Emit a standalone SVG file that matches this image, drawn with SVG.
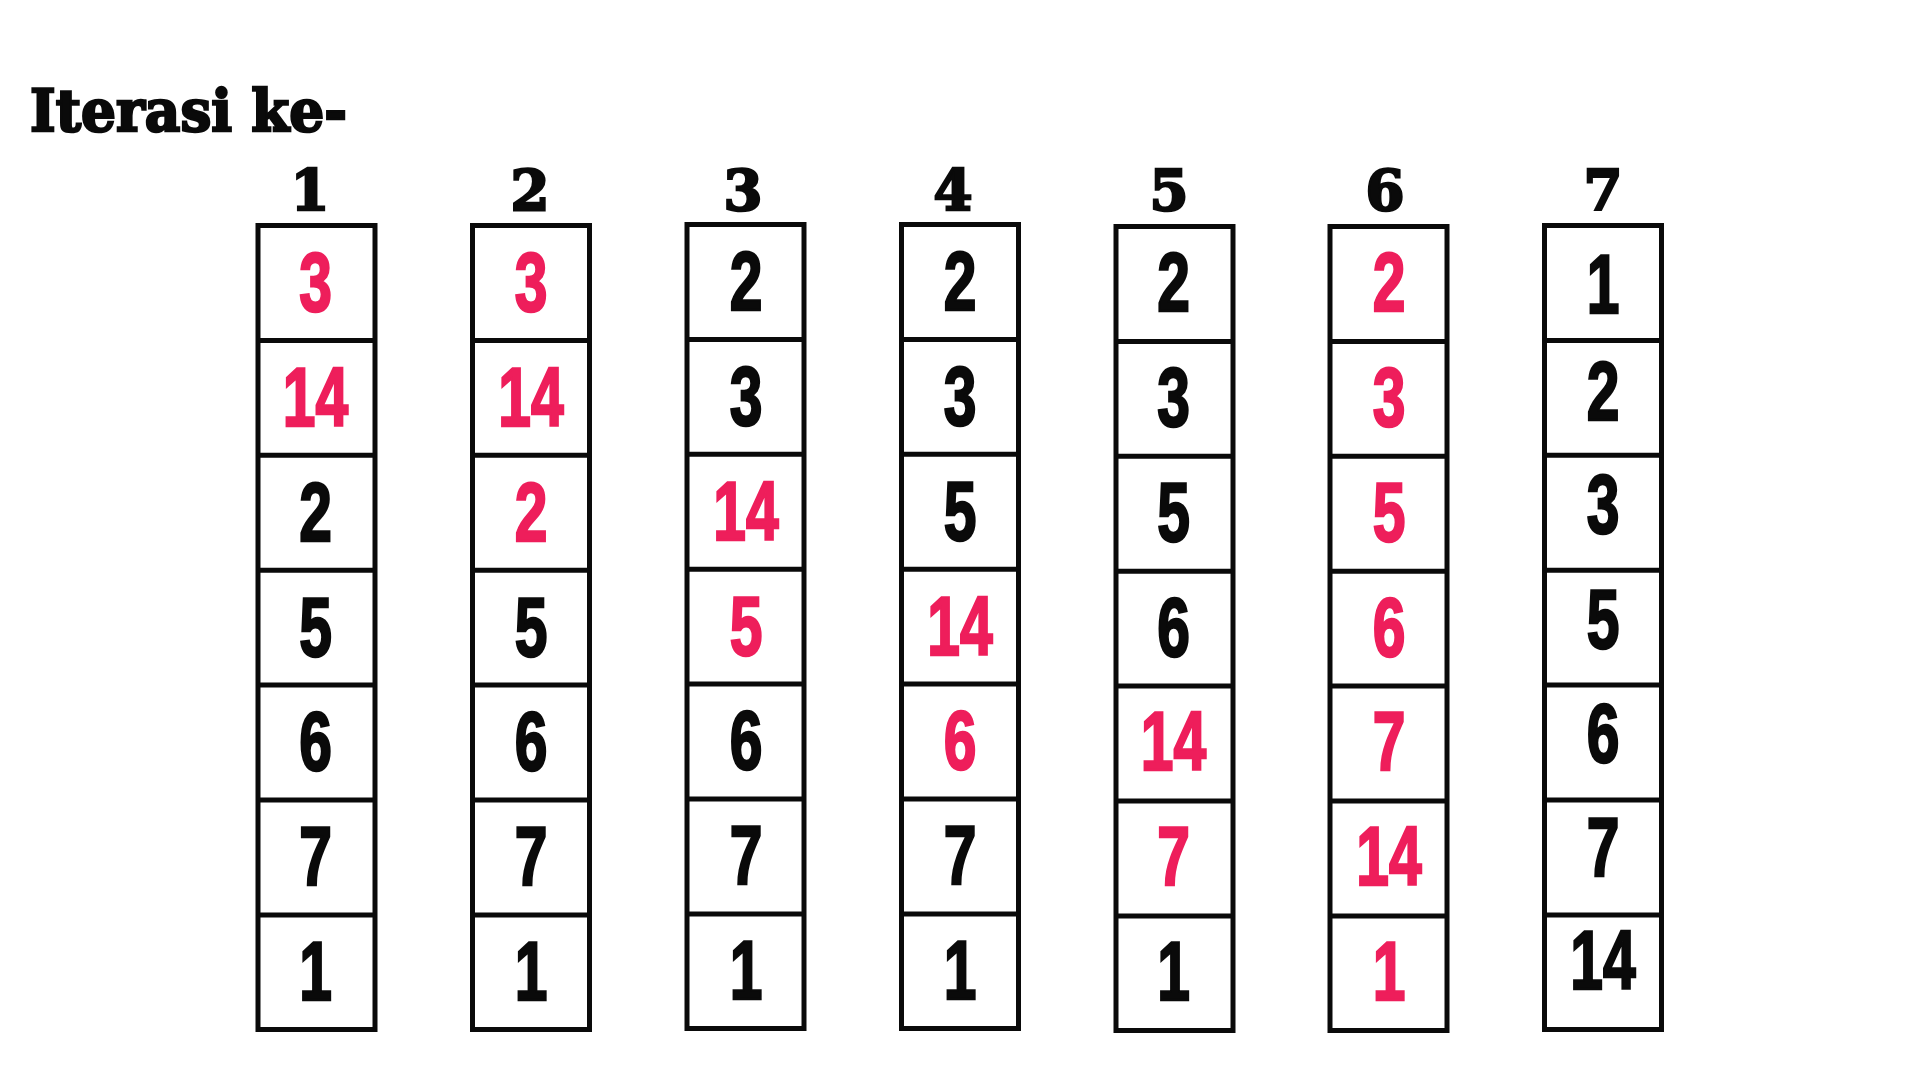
<svg xmlns="http://www.w3.org/2000/svg" width="1920" height="1080" viewBox="0 0 1920 1080">
<style>
.box{fill:#fff;stroke:#0a0a0a;stroke-width:5}
.div{stroke:#0a0a0a;stroke-width:5}
.hd{font-family:"DejaVu Serif","Liberation Serif",serif;font-weight:bold;fill:#0a0a0a;stroke:#0a0a0a;stroke-width:2.5}
.n{font-family:"Liberation Sans",Arial,sans-serif;font-weight:bold;font-size:84px;text-anchor:middle;stroke-width:2.5}
.k{fill:#0a0a0a;stroke:#0a0a0a}
.r{fill:#ee1e5b;stroke:#ee1e5b}
</style>
<rect width="1920" height="1080" fill="#fff"/>
<text class="hd" x="30" y="131" font-size="58" textLength="317" lengthAdjust="spacingAndGlyphs">Iterasi ke-</text>

<g id="col1">
<text class="hd" x="310" y="210" font-size="56" text-anchor="middle">1</text>
<rect class="box" x="258" y="225.5" width="117" height="804"/>
<path class="div" d="M258 340.4H375M258 455.3H375M258 570.2H375M258 685.1H375M258 800H375M258 914.9H375"/>
<g transform="translate(315.5,311) scale(0.7,1)"><text class="n r">3</text></g>
<g transform="translate(315.5,426) scale(0.7,1)"><text class="n r">14</text></g>
<g transform="translate(315.5,541) scale(0.7,1)"><text class="n k">2</text></g>
<g transform="translate(315.5,656) scale(0.7,1)"><text class="n k">5</text></g>
<g transform="translate(315.5,770) scale(0.7,1)"><text class="n k">6</text></g>
<g transform="translate(315.5,885) scale(0.7,1)"><text class="n k">7</text></g>
<g transform="translate(315.5,1000) scale(0.7,1)"><text class="n k">1</text></g>
</g>

<g id="col2">
<text class="hd" x="530" y="210" font-size="56" text-anchor="middle">2</text>
<rect class="box" x="472.5" y="225.5" width="117" height="804"/>
<path class="div" d="M472.5 340.4H589.5M472.5 455.3H589.5M472.5 570.2H589.5M472.5 685.1H589.5M472.5 800H589.5M472.5 914.9H589.5"/>
<g transform="translate(531,311) scale(0.7,1)"><text class="n r">3</text></g>
<g transform="translate(531,426) scale(0.7,1)"><text class="n r">14</text></g>
<g transform="translate(531,541) scale(0.7,1)"><text class="n r">2</text></g>
<g transform="translate(531,656) scale(0.7,1)"><text class="n k">5</text></g>
<g transform="translate(531,770) scale(0.7,1)"><text class="n k">6</text></g>
<g transform="translate(531,885) scale(0.7,1)"><text class="n k">7</text></g>
<g transform="translate(531,1000) scale(0.7,1)"><text class="n k">1</text></g>
</g>

<g id="col3">
<text class="hd" x="743" y="210" font-size="56" text-anchor="middle">3</text>
<rect class="box" x="687" y="224.5" width="117" height="804"/>
<path class="div" d="M687 339.4H804M687 454.3H804M687 569.2H804M687 684.1H804M687 799H804M687 913.9H804"/>
<g transform="translate(746,310) scale(0.7,1)"><text class="n k">2</text></g>
<g transform="translate(746,425) scale(0.7,1)"><text class="n k">3</text></g>
<g transform="translate(746,540) scale(0.7,1)"><text class="n r">14</text></g>
<g transform="translate(746,655) scale(0.7,1)"><text class="n r">5</text></g>
<g transform="translate(746,769) scale(0.7,1)"><text class="n k">6</text></g>
<g transform="translate(746,884) scale(0.7,1)"><text class="n k">7</text></g>
<g transform="translate(746,999) scale(0.7,1)"><text class="n k">1</text></g>
</g>

<g id="col4">
<text class="hd" x="953" y="210" font-size="56" text-anchor="middle">4</text>
<rect class="box" x="901.5" y="224.5" width="117" height="804"/>
<path class="div" d="M901.5 339.4H1018.5M901.5 454.3H1018.5M901.5 569.2H1018.5M901.5 684.1H1018.5M901.5 799H1018.5M901.5 913.9H1018.5"/>
<g transform="translate(960,310) scale(0.7,1)"><text class="n k">2</text></g>
<g transform="translate(960,425) scale(0.7,1)"><text class="n k">3</text></g>
<g transform="translate(960,540) scale(0.7,1)"><text class="n k">5</text></g>
<g transform="translate(960,655) scale(0.7,1)"><text class="n r">14</text></g>
<g transform="translate(960,769) scale(0.7,1)"><text class="n r">6</text></g>
<g transform="translate(960,884) scale(0.7,1)"><text class="n k">7</text></g>
<g transform="translate(960,999) scale(0.7,1)"><text class="n k">1</text></g>
</g>

<g id="col5">
<text class="hd" x="1169" y="210" font-size="56" text-anchor="middle">5</text>
<rect class="box" x="1116" y="226.5" width="117" height="804"/>
<path class="div" d="M1116 341.4H1233M1116 456.3H1233M1116 571.2H1233M1116 686.1H1233M1116 801H1233M1116 915.9H1233"/>
<g transform="translate(1173.5,311) scale(0.7,1)"><text class="n k">2</text></g>
<g transform="translate(1173.5,426) scale(0.7,1)"><text class="n k">3</text></g>
<g transform="translate(1173.5,541) scale(0.7,1)"><text class="n k">5</text></g>
<g transform="translate(1173.5,656) scale(0.7,1)"><text class="n k">6</text></g>
<g transform="translate(1173.5,770) scale(0.7,1)"><text class="n r">14</text></g>
<g transform="translate(1173.5,885) scale(0.7,1)"><text class="n r">7</text></g>
<g transform="translate(1173.5,1000) scale(0.7,1)"><text class="n k">1</text></g>
</g>

<g id="col6">
<text class="hd" x="1385" y="210" font-size="56" text-anchor="middle">6</text>
<rect class="box" x="1330" y="226.5" width="117" height="804"/>
<path class="div" d="M1330 341.4H1447M1330 456.3H1447M1330 571.2H1447M1330 686.1H1447M1330 801H1447M1330 915.9H1447"/>
<g transform="translate(1389,311) scale(0.7,1)"><text class="n r">2</text></g>
<g transform="translate(1389,426) scale(0.7,1)"><text class="n r">3</text></g>
<g transform="translate(1389,541) scale(0.7,1)"><text class="n r">5</text></g>
<g transform="translate(1389,656) scale(0.7,1)"><text class="n r">6</text></g>
<g transform="translate(1389,770) scale(0.7,1)"><text class="n r">7</text></g>
<g transform="translate(1389,885) scale(0.7,1)"><text class="n r">14</text></g>
<g transform="translate(1389,1000) scale(0.7,1)"><text class="n r">1</text></g>
</g>

<g id="col7">
<text class="hd" x="1603" y="210" font-size="56" text-anchor="middle">7</text>
<rect class="box" x="1544.5" y="225.5" width="117" height="804"/>
<path class="div" d="M1544.5 340.4H1661.5M1544.5 455.3H1661.5M1544.5 570.2H1661.5M1544.5 685.1H1661.5M1544.5 800H1661.5M1544.5 914.9H1661.5"/>
<g transform="translate(1603,313) scale(0.7,1)"><text class="n k">1</text></g>
<g transform="translate(1603,420) scale(0.7,1)"><text class="n k">2</text></g>
<g transform="translate(1603,533) scale(0.7,1)"><text class="n k">3</text></g>
<g transform="translate(1603,648) scale(0.7,1)"><text class="n k">5</text></g>
<g transform="translate(1603,762) scale(0.7,1)"><text class="n k">6</text></g>
<g transform="translate(1603,876) scale(0.7,1)"><text class="n k">7</text></g>
<g transform="translate(1603,989) scale(0.7,1)"><text class="n k">14</text></g>
</g>
</svg>
